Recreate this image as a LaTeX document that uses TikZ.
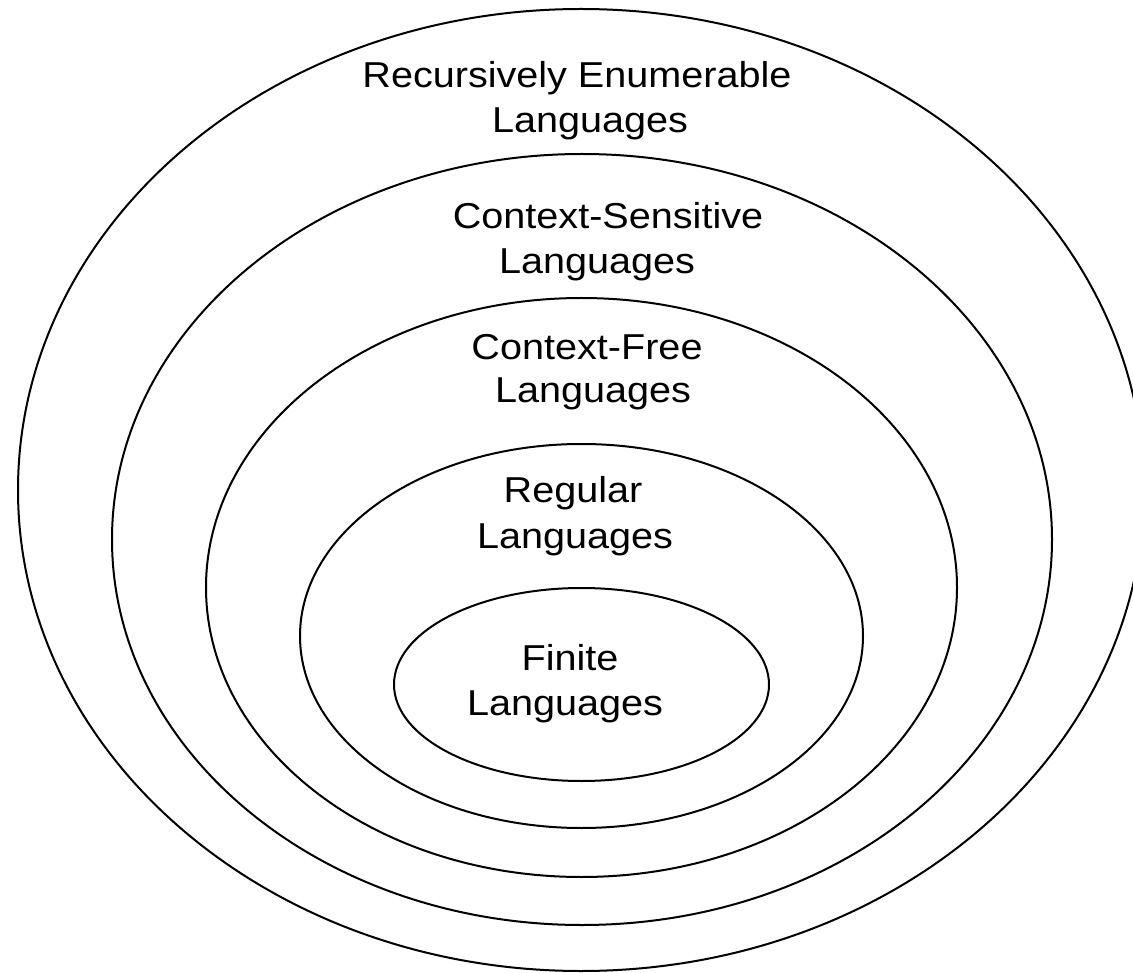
\documentclass[tikz,border=0pt]{standalone}
\usepackage{fontspec}
\setmainfont{Liberation Sans}[FakeStretch=1.1]
\begin{document}
\begin{tikzpicture}[x=1pt,y=-1pt,
  ring/.style={draw=black,line width=2pt},
  lbl/.style={inner sep=0pt,anchor=base,font=\fontsize{36}{45}\selectfont}]
\useasboundingbox (0,0) rectangle (1133,973);
\clip (0,0) rectangle (1133,973);
\fill[white] (0,0) rectangle (1133,973);

% nested language classes
\draw[ring] (581,490)   ellipse [x radius=563pt,   y radius=481pt];
\draw[ring] (582,539.5) ellipse [x radius=470pt,   y radius=385.5pt];
\draw[ring] (581.5,587.5) ellipse [x radius=375.5pt, y radius=289.5pt];
\draw[ring] (581.5,636) ellipse [x radius=281.5pt, y radius=192pt];
\draw[ring] (581.5,684.5) ellipse [x radius=187.5pt, y radius=96.5pt];

% labels, one node per line
\node[lbl] (re1)  at (577,88)  {Recursively Enumerable};
\node[lbl] (re2)  at (590,133) {Languages};
\node[lbl] (cs1)  at (608,229) {Context-Sensitive};
\node[lbl] (cs2)  at (597,274) {Languages};
\node[lbl] (cf1)  at (587,360) {Context-Free};
\node[lbl] (cf2)  at (593,403) {Languages};
\node[lbl] (rg1)  at (573,503) {Regular};
\node[lbl] (rg2)  at (575,548) {Languages};
\node[lbl] (fn1)  at (570,670) {Finite};
\node[lbl] (fn2)  at (565,715) {Languages};
\end{tikzpicture}
\end{document}
